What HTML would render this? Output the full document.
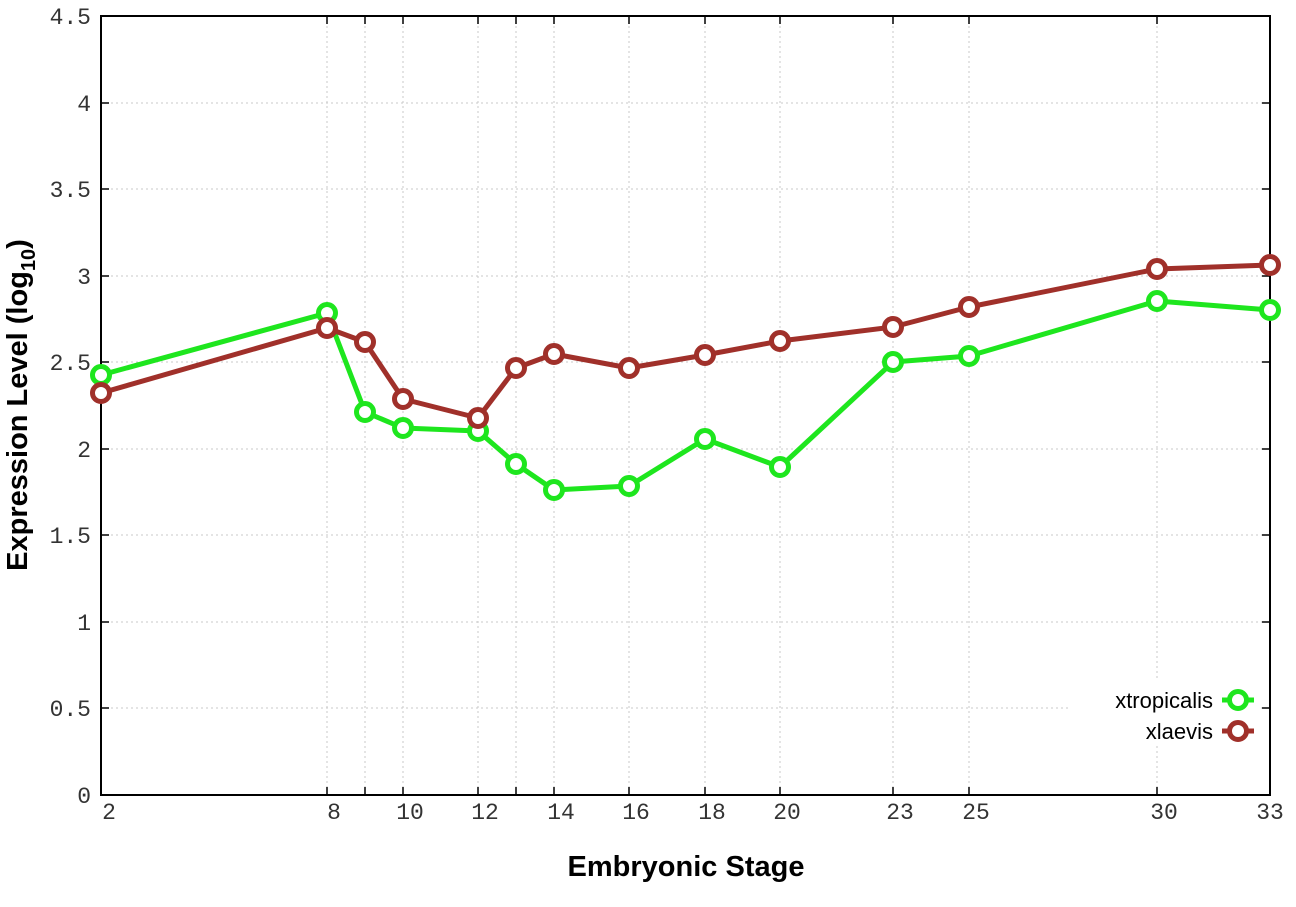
<!DOCTYPE html>
<html><head><meta charset="utf-8"><style>body{margin:0;background:#fff}svg{display:block}</style></head><body>
<svg width="1296" height="907" xmlns="http://www.w3.org/2000/svg">
<rect width="1296" height="907" fill="#fff"/>
<g stroke="#c8c8c8" stroke-width="1" stroke-dasharray="2,3">
<line x1="101" x2="1270" y1="708" y2="708"/><line x1="101" x2="1270" y1="622" y2="622"/><line x1="101" x2="1270" y1="535" y2="535"/><line x1="101" x2="1270" y1="449" y2="449"/><line x1="101" x2="1270" y1="362" y2="362"/><line x1="101" x2="1270" y1="276" y2="276"/><line x1="101" x2="1270" y1="189" y2="189"/><line x1="101" x2="1270" y1="103" y2="103"/>
<line y1="16" y2="795" x1="327" x2="327"/><line y1="16" y2="795" x1="365" x2="365"/><line y1="16" y2="795" x1="403" x2="403"/><line y1="16" y2="795" x1="478" x2="478"/><line y1="16" y2="795" x1="516" x2="516"/><line y1="16" y2="795" x1="554" x2="554"/><line y1="16" y2="795" x1="629" x2="629"/><line y1="16" y2="795" x1="705" x2="705"/><line y1="16" y2="795" x1="780" x2="780"/><line y1="16" y2="795" x1="893" x2="893"/><line y1="16" y2="795" x1="969" x2="969"/><line y1="16" y2="795" x1="1157" x2="1157"/>
</g>
<rect x="1070" y="680" width="190" height="65" fill="#fff"/>
<rect x="101" y="16" width="1169" height="779" fill="none" stroke="#000" stroke-width="2"/>
<g stroke="#000" stroke-width="1.5">
<path d="M101 708h8M101 622h8M101 535h8M101 449h8M101 362h8M101 276h8M101 189h8M101 103h8M1270 708h-8M1270 622h-8M1270 535h-8M1270 449h-8M1270 362h-8M1270 276h-8M1270 189h-8M1270 103h-8"/>
<path d="M327 795v-8M365 795v-8M403 795v-8M478 795v-8M516 795v-8M554 795v-8M629 795v-8M705 795v-8M780 795v-8M893 795v-8M969 795v-8M1157 795v-8M327 16v8M365 16v8M403 16v8M478 16v8M516 16v8M554 16v8M629 16v8M705 16v8M780 16v8M893 16v8M969 16v8M1157 16v8"/>
</g>
<g font-family="Liberation Mono, monospace" font-size="23" fill="#333" text-anchor="end">
<text x="91" y="803">0</text><text x="91" y="716">0.5</text><text x="91" y="630">1</text><text x="91" y="543">1.5</text><text x="91" y="457">2</text><text x="91" y="370">2.5</text><text x="91" y="284">3</text><text x="91" y="197">3.5</text><text x="91" y="111">4</text><text x="91" y="24">4.5</text>
</g>
<g font-family="Liberation Mono, monospace" font-size="23" fill="#333" text-anchor="middle">
<text x="109" y="819">2</text><text x="334" y="819">8</text><text x="410" y="819">10</text><text x="485" y="819">12</text><text x="561" y="819">14</text><text x="636" y="819">16</text><text x="712" y="819">18</text><text x="787" y="819">20</text><text x="900" y="819">23</text><text x="976" y="819">25</text><text x="1164" y="819">30</text><text x="1270" y="819">33</text>
</g>
<text x="686" y="876" font-family="Liberation Sans, sans-serif" font-weight="bold" font-size="29" text-anchor="middle">Embryonic Stage</text>
<text transform="translate(27,405) rotate(-90)" font-family="Liberation Sans, sans-serif" font-weight="bold" font-size="29" text-anchor="middle">Expression Level (log<tspan font-size="20" dy="8">10</tspan><tspan dy="-8">)</tspan></text>
<g fill="none" stroke-width="5" stroke-linejoin="round">
<polyline stroke="#1ee61e" points="101,375 327,313 365,412 403,428 478,431 516,464 554,490 629,486 705,439 780,467 893,362 969,356 1157,301 1270,310"/>
<polyline stroke="#a0302a" points="101,393 327,328 365,342 403,399 478,418 516,368 554,354 629,368 705,355 780,341 893,327 969,307 1157,269 1270,265"/>
</g>
<g fill="#fff" stroke-width="5" stroke="#1ee61e">
<circle cx="101" cy="375" r="8.5"/><circle cx="327" cy="313" r="8.5"/><circle cx="365" cy="412" r="8.5"/><circle cx="403" cy="428" r="8.5"/><circle cx="478" cy="431" r="8.5"/><circle cx="516" cy="464" r="8.5"/><circle cx="554" cy="490" r="8.5"/><circle cx="629" cy="486" r="8.5"/><circle cx="705" cy="439" r="8.5"/><circle cx="780" cy="467" r="8.5"/><circle cx="893" cy="362" r="8.5"/><circle cx="969" cy="356" r="8.5"/><circle cx="1157" cy="301" r="8.5"/><circle cx="1270" cy="310" r="8.5"/>
</g>
<g fill="#fff" stroke-width="5" stroke="#a0302a">
<circle cx="101" cy="393" r="8.5"/><circle cx="327" cy="328" r="8.5"/><circle cx="365" cy="342" r="8.5"/><circle cx="403" cy="399" r="8.5"/><circle cx="478" cy="418" r="8.5"/><circle cx="516" cy="368" r="8.5"/><circle cx="554" cy="354" r="8.5"/><circle cx="629" cy="368" r="8.5"/><circle cx="705" cy="355" r="8.5"/><circle cx="780" cy="341" r="8.5"/><circle cx="893" cy="327" r="8.5"/><circle cx="969" cy="307" r="8.5"/><circle cx="1157" cy="269" r="8.5"/><circle cx="1270" cy="265" r="8.5"/>
</g>
<g font-family="Liberation Sans, sans-serif" font-size="22" fill="#000" text-anchor="end">
<text x="1213" y="708">xtropicalis</text><text x="1213" y="739">xlaevis</text>
</g>
<g stroke-width="5" fill="#fff">
<line x1="1222" x2="1254" y1="700" y2="700" stroke="#1ee61e"/><circle cx="1238" cy="700" r="8.5" stroke="#1ee61e"/>
<line x1="1222" x2="1254" y1="731" y2="731" stroke="#a0302a"/><circle cx="1238" cy="731" r="8.5" stroke="#a0302a"/>
</g>
</svg>
</body></html>
